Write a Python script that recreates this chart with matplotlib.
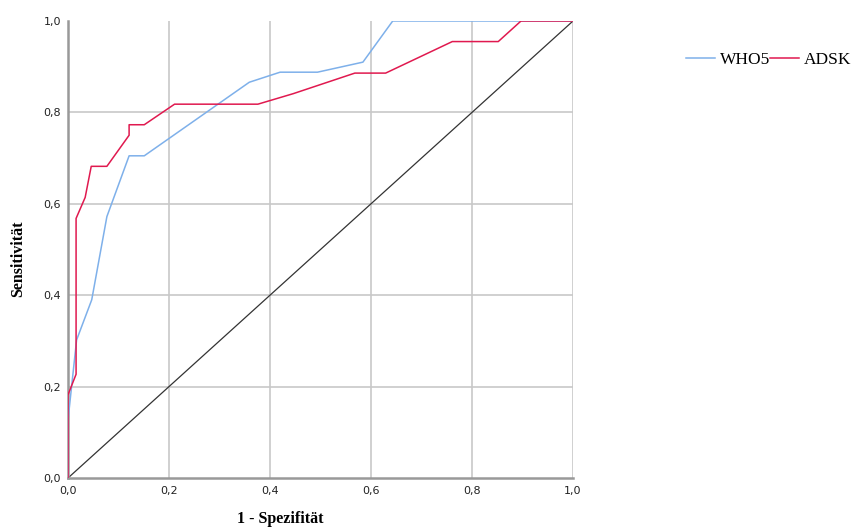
import numpy as np
import matplotlib
matplotlib.use("Agg")
import matplotlib.pyplot as plt

# ROC curves (1 - specificity, sensitivity)
who5_fpr = [0.0, 0.0, 0.017, 0.047, 0.077, 0.121, 0.151, 0.359, 0.420, 0.494, 0.584, 0.643, 1.0]
who5_tpr = [0.0, 0.127, 0.302, 0.390, 0.572, 0.705, 0.705, 0.866, 0.888, 0.888, 0.910, 1.0, 1.0]

adsk_fpr = [0.0, 0.0, 0.016, 0.016, 0.034, 0.046, 0.077, 0.121, 0.121, 0.151, 0.211,
            0.376, 0.446, 0.568, 0.629, 0.761, 0.852, 0.897, 1.0]
adsk_tpr = [0.0, 0.182, 0.227, 0.568, 0.614, 0.682, 0.682, 0.750, 0.773, 0.773, 0.818,
            0.818, 0.841, 0.886, 0.886, 0.955, 0.955, 1.0, 1.0]

ref_line = [0.0, 1.0]
ticks = [0.0, 0.2, 0.4, 0.6, 0.8, 1.0]
tick_labels = ["0,0", "0,2", "0,4", "0,6", "0,8", "1,0"]

fig = plt.figure(figsize=(8.55, 5.27), dpi=100)
ax = fig.add_axes([68 / 855, 49 / 527, 505 / 855, 457 / 527])

for v in ticks[1:]:
    ax.axvline(v, color="#c8c8c8", lw=1.2, zorder=0)
for v in ticks[1:-1]:
    ax.axhline(v, color="#c8c8c8", lw=1.2, zorder=0)

ax.plot(ref_line, ref_line, color="#333333", lw=0.9, zorder=2)
ax.plot(who5_fpr, who5_tpr, color="#7EB0EA", lw=1.1, label="WHO5", zorder=3)
ax.plot(adsk_fpr, adsk_tpr, color="#E0194F", lw=1.1, label="ADSK", zorder=4)

ax.set_xlim(0, 1)
ax.set_ylim(0, 1)
ax.set_xticks(ticks)
ax.set_yticks(ticks)
ax.set_xticklabels(tick_labels, fontsize=8, color="#222222")
ax.set_yticklabels(tick_labels, fontsize=8, color="#222222")
ax.tick_params(axis="x", length=0, pad=6)
ax.tick_params(axis="y", length=0, pad=5)

for s in ["top", "right"]:
    ax.spines[s].set_visible(False)
for s in ["left", "bottom"]:
    ax.spines[s].set_color("#999999")
    ax.spines[s].set_linewidth(1.8)

ax.set_xlabel("1 - Spezifität", family="Liberation Serif", fontweight="bold", fontsize=11.5)
ax.set_ylabel("Sensitivität", family="Liberation Serif", fontweight="bold", fontsize=11.5)
ax.xaxis.set_label_coords(0.42, -0.072)
ax.yaxis.set_label_coords(-0.083, 0.479)

fig.legend(loc="center left", bbox_to_anchor=(686 / 855, 1 - 60 / 527), ncol=2,
           frameon=False, prop={"family": "Liberation Serif", "size": 12.5},
           handlelength=1.65, handletextpad=0.3, columnspacing=0.0, borderaxespad=0,
           borderpad=0)

fig.savefig("out.png", dpi=100)
